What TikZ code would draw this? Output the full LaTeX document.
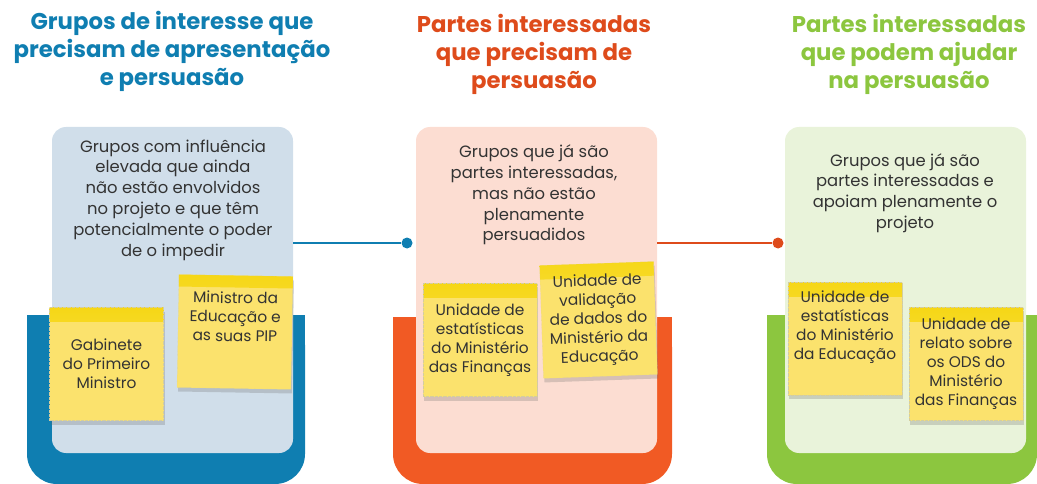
\documentclass[tikz,border=0pt]{standalone}
\usepackage{fontspec}
\setmainfont{Poppins}
\usepackage{tikz}
\usetikzlibrary{shadows}
\definecolor{blueA}{HTML}{0F7EB1}
\definecolor{blueB}{HTML}{D0DEEA}
\definecolor{orangeA}{HTML}{F15A24}
\definecolor{orangeH}{HTML}{DE4B1B}
\definecolor{orangeB}{HTML}{FCDDD2}
\definecolor{greenA}{HTML}{8CC63F}
\definecolor{greenB}{HTML}{E9F3DA}
\definecolor{noteY}{HTML}{FBE26D}
\definecolor{noteTop}{HTML}{F6D716}
\definecolor{textgray}{HTML}{333333}

\begin{document}
\begin{tikzpicture}[x=1pt,y=-1pt,
    heading/.style={font=\bfseries\fontsize{22.8}{28}\selectfont, align=center},
    card/.style={rounded corners=14pt, minimum width=241pt, minimum height=326pt},
    desc/.style={font=\fontsize{16.4}{20.8}\selectfont, align=center, text=textgray, inner sep=0pt},
    note/.style={fill=noteY, draw=noteTop!60!black!40, densely dotted, line width=.3pt,
      minimum width=114pt, minimum height=113pt, inner sep=0pt, text=textgray,
      font=\fontsize{15.4}{19}\selectfont, align=center,
      drop shadow={shadow xshift=1pt, shadow yshift=-4pt, opacity=.25, fill=black!60},
      path picture={\shade[top color=noteTop, bottom color=noteY]
        (path picture bounding box.north west) rectangle ([yshift=-14pt]path picture bounding box.north east);}},
    dot/.style={circle, minimum size=11pt, inner sep=0pt},
    link/.style={line width=2.5pt}]
  \useasboundingbox (0,0) rectangle (1037,484);

  \fill[blueA, rounded corners=30pt] (27,315) rectangle (305,484);
  \fill[blueA] (27,315) rectangle (305,360);
  \fill[orangeA, rounded corners=30pt] (393,317) rectangle (672,484);
  \fill[orangeA] (393,317) rectangle (672,360);
  \fill[greenA, rounded corners=30pt] (767,315) rectangle (1037,484);
  \fill[greenA] (767,315) rectangle (1037,360);

  \node[heading, text=blueA] (head1) at (172,51) {Grupos de interesse que\\precisam de apresentação\\e persuasão};
  \node[heading, text=orangeH] (head2) at (534,54) {Partes interessadas\\que precisam de\\persuasão};
  \node[heading, text=greenA] (head3) at (909,54) {Partes interessadas\\que podem ajudar\\na persuasão};

  \node[card, fill=blueB] (card1) at (172.5,290) {};
  \node[card, fill=orangeB] (card2) at (536.5,290) {};
  \node[card, fill=greenB] (card3) at (905.5,290) {};

  \node[desc] (desc1) at (173,200) {Grupos com influência\\elevada que ainda\\não estão envolvidos\\no projeto e que têm\\potencialmente o poder\\de o impedir};
  \node[desc] (desc2) at (534,195) {Grupos que já são\\partes interessadas,\\mas não estão\\plenamente\\persuadidos};
  \node[desc] (desc3) at (905,193) {Grupos que já são\\partes interessadas e\\apoiam plenamente o\\projeto};

  \node[dot, fill=blueA] (dot1) at (407,243) {};
  \node[dot, fill=orangeH] (dot2) at (778,243) {};
  \draw[link, blueA] (card1.east |- dot1) -- (dot1);
  \draw[link, orangeH] (card2.east |- dot2) -- (dot2);

  \node[note] (gab) at (106.5,364) {Gabinete\\do Primeiro\\Ministro};
  \node[note, rotate=-1] (medu) at (235,332) {Ministro da\\Educação e\\as suas PIP\\[12pt]};
  \node[note] (uefin) at (480,340) {Unidade de\\estatísticas\\do Ministério\\das Finanças};
  \node[note, rotate=2] (uvedu) at (598.5,320) {Unidade de\\validação\\de dados do\\Ministério da\\Educação};
  \node[note] (ueedu) at (845,338.5) {Unidade de\\estatísticas\\do Ministério\\da Educação\\[8pt]};
  \node[note] (urods) at (966,364) {Unidade de\\relato sobre\\os ODS do\\Ministério\\das Finanças};
\end{tikzpicture}
\end{document}
